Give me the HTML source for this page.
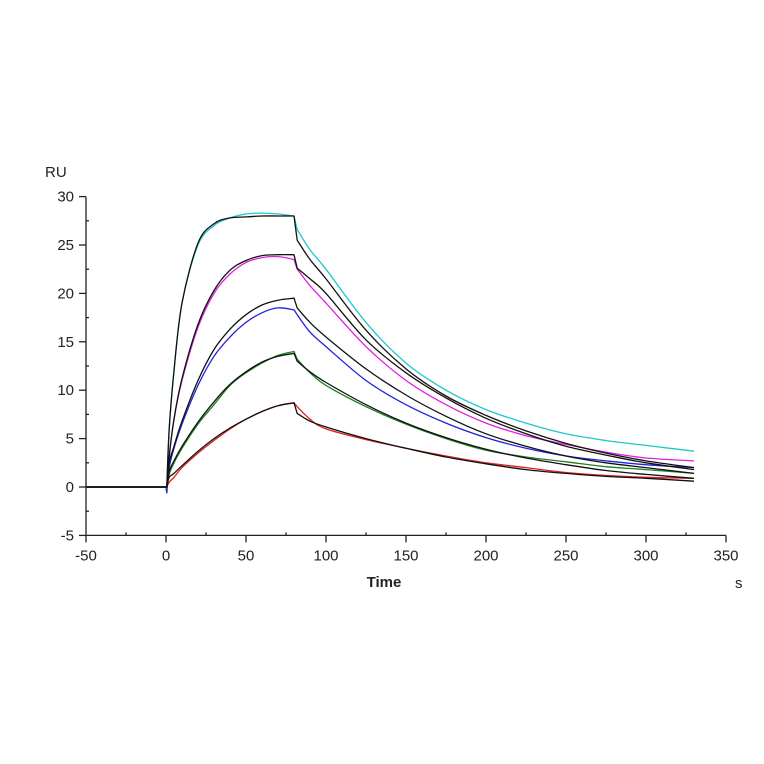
<!DOCTYPE html>
<html><head><meta charset="utf-8"><style>
html,body{margin:0;padding:0;background:#fff;}
svg{display:block;font-family:"Liberation Sans",Arial,sans-serif;}
</style></head><body>
<svg id="chart" width="764" height="764" viewBox="0 0 764 764">
<g id="axes"></g>
<g id="series"></g>
<text x="45" y="177" font-size="15" fill="#222">RU</text>
<text x="384" y="587" font-size="15" font-weight="bold" text-anchor="middle" fill="#222">Time</text>
<text x="735" y="588" font-size="15" fill="#222">s</text>
</svg>
<script>
const xTicks=[-50,0,50,100,150,200,250,300,350];
const yTicks=[-5,0,5,10,15,20,25,30];
const times=[-50,-25,-1,0,0.5,2,5,10,20,30,40,50,60,70,80,82,90,100,125,150,175,200,225,250,275,300,330];
const cyan=[0,0,0,0,-0.3,6,12,19,25,27,27.8,28.2,28.3,28.2,28,26.6,24.5,22.5,17,12.8,10,8,6.6,5.5,4.8,4.3,3.7];
const cyanFit=[0,0,0,0,0,6,12,19,25.2,27.2,27.8,27.9,28,28,28,25.5,23.5,21.5,16.2,12.2,9.4,7.4,5.8,4.5,3.5,2.7,2.0];
const magenta=[0,0,0,0,-0.6,3,7,11,16.5,20,22,23.2,23.7,23.8,23.5,22.5,20.8,19,14.5,11,8.5,6.6,5.3,4.4,3.6,3.0,2.7];
const magentaFit=[0,0,0,0,0,3.2,7,11.2,16.8,20.3,22.4,23.4,23.9,24.0,24.0,22.6,21.5,20,15.2,11.8,9.2,7.1,5.5,4.2,3.3,2.5,1.8];
const blue=[0,0,0,0,-0.6,2,4,6.5,10.5,13.5,15.5,17,18,18.5,18.3,17.8,16,14.5,11,8.5,6.6,5.1,4,3.2,2.7,2.3,2.0];
const blueFit=[0,0,0,0,0,2.5,4.2,6.8,11,14.2,16.3,17.8,18.8,19.3,19.5,18.5,17,15.5,12.2,9.5,7.3,5.5,4.2,3.2,2.5,2.0,1.4];
const green=[0,0,0,0,-0.2,1.3,2.5,4,6.5,8.5,10.5,11.8,12.8,13.6,14,13.2,11.8,10.5,8.3,6.5,5,3.8,3.1,2.6,2.1,1.8,1.4];
const greenFit=[0,0,0,0,0,1.6,2.7,4.2,6.7,8.8,10.6,11.9,12.9,13.5,13.8,13.0,11.9,10.8,8.5,6.6,5.1,3.9,3.0,2.3,1.7,1.3,0.9];
const red=[0,0,0,0,0,0.5,1,2,3.5,4.8,6,7,7.8,8.4,8.7,8.3,7,6,4.9,4,3.2,2.5,2,1.5,1.2,1.0,0.9];
const redFit=[0,0,0,0,0,1.0,1.4,2.2,3.7,5.0,6.1,7.0,7.8,8.4,8.7,7.6,6.8,6.2,5.0,4.0,3.1,2.4,1.8,1.4,1.1,0.9,0.6];
const seriesList=[
 {name:'cyan-curve',color:'#1fc8c8',data:cyan},
 {name:'magenta-curve',color:'#e020e0',data:magenta},
 {name:'blue-curve',color:'#2020e0',data:blue},
 {name:'green-curve',color:'#208020',data:green},
 {name:'red-curve',color:'#e02020',data:red},
 {name:'cyan-fit',color:'#111',data:cyanFit},
 {name:'magenta-fit',color:'#111',data:magentaFit},
 {name:'blue-fit',color:'#111',data:blueFit},
 {name:'green-fit',color:'#111',data:greenFit},
 {name:'red-fit',color:'#111',data:redFit}
];
const NS='http://www.w3.org/2000/svg';
const X=t=>166+(t-0)*1.6;
const Y=v=>487-v*9.68;
const axes=document.getElementById('axes');
function mk(tag,attrs,parent){const e=document.createElementNS(NS,tag);for(const k in attrs)e.setAttribute(k,attrs[k]);parent.appendChild(e);return e;}
let e=mk('line',{x1:X(-50),y1:Y(-5),x2:X(350),y2:Y(-5),stroke:'#222','stroke-width':1.3},axes);


e=mk('line',{x1:X(-50),y1:Y(-5),x2:X(-50),y2:Y(30),stroke:'#222','stroke-width':1.3},axes);


yTicks.forEach(v=>{
 const l=mk('line',{x1:X(-50)-7,y1:Y(v),x2:X(-50),y2:Y(v),stroke:'#222','stroke-width':1.3},axes);
 
 
 if(v<30){const m=mk('line',{x1:X(-50),y1:Y(v+2.5),x2:X(-50)+3,y2:Y(v+2.5),stroke:'#222','stroke-width':1.3},axes);
 
 }
 const t=mk('text',{x:X(-50)-12,y:Y(v)+5,'font-size':15,'text-anchor':'end',fill:'#222'},axes);
 t.textContent=v;
 
 
});
xTicks.forEach(v=>{
 const l=mk('line',{x1:X(v),y1:Y(-5),x2:X(v),y2:Y(-5)+7,stroke:'#222','stroke-width':1.3},axes);
 
 
 if(v<350){const m=mk('line',{x1:X(v+25),y1:Y(-5)-3,x2:X(v+25),y2:Y(-5),stroke:'#222','stroke-width':1.3},axes);
 
 }
 const t=mk('text',{x:X(v),y:Y(-5)+25,'font-size':15,'text-anchor':'middle',fill:'#222'},axes);
 t.textContent=v;
 
 
});
// segments drawn straight (injection start and end kinks)
function isBreak(i){const a=times[i],b=times[i+1];return (a>=-1&&b<=0.5)||(a===80&&b===82);}
function pathFor(data){
 const P=times.map((t,i)=>[X(t),Y(data[i])]);
 let d='M'+P[0][0].toFixed(1)+','+P[0][1].toFixed(1);
 for(let i=0;i<P.length-1;i++){
  const p1=P[i],p2=P[i+1];
  if(isBreak(i)){d+=' L'+p2[0].toFixed(1)+','+p2[1].toFixed(1);continue;}
  const p0=(i>0&&!isBreak(i-1))?P[i-1]:p1;
  const p3=(i+2<P.length&&!isBreak(i+1))?P[i+2]:p2;
  const c1=[p1[0]+(p2[0]-p0[0])/6,p1[1]+(p2[1]-p0[1])/6];
  const c2=[p2[0]-(p3[0]-p1[0])/6,p2[1]-(p3[1]-p1[1])/6];
  d+=' C'+c1.map(v=>v.toFixed(1)).join(',')+' '+c2.map(v=>v.toFixed(1)).join(',')+' '+p2.map(v=>v.toFixed(1)).join(',');
 }
 return d;
}
const sg=document.getElementById('series');
seriesList.forEach(s=>{
 const p=mk('path',{d:pathFor(s.data),fill:'none',stroke:s.color,'stroke-width':1.3,'stroke-linejoin':'round'},sg);
 
 
});
</script>
</body></html>
